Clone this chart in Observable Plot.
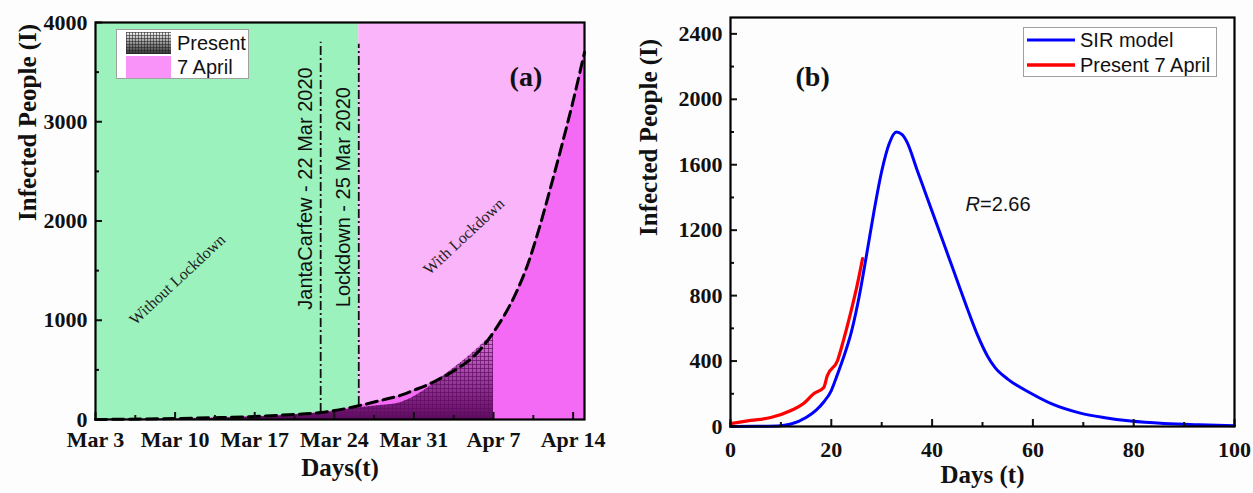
<!DOCTYPE html>
<html>
<head>
<meta charset="utf-8">
<script src="https://cdn.jsdelivr.net/npm/d3@7"></script>
<script src="https://cdn.jsdelivr.net/npm/@observablehq/plot@0.6"></script>
<style>
  html, body { margin: 0; padding: 0; background: #ffffff; }
  #wrap { position: relative; width: 1253px; height: 493px; overflow: hidden; background: #fdfdfd; }
  .panel { position: absolute; top: 0; }
  .legend { position: absolute; background: #fff; border: 1px solid #a0a0a0; box-sizing: border-box;
            font-family: "Liberation Sans", Arial, sans-serif; font-size: 20px; color: #111; }
  .legend svg { position: absolute; }
  .legend span { position: absolute; white-space: nowrap; }
</style>
</head>
<body>
<div id="wrap"></div>
<script>
// ---------------- Panel (a) data ----------------
// x = days since 3 March 2020
const xTicksA = [0, 7, 14, 21, 28, 35, 42];
const xTickLabelsA = ["Mar 3", "Mar 10", "Mar 17", "Mar 24", "Mar 31", "Apr 7", "Apr 14"];
const xMinorA = [3.5, 10.5, 17.5, 24.5, 31.5, 38.5];
const yTicksA = [0, 1000, 2000, 3000, 4000];
const yMinorA = [500, 1500, 2500, 3500];

// dashed "7 April" projection curve
const modelDaysA = [0, 4, 7, 11, 14, 17, 19.8, 22, 23.2, 25, 27, 28, 29, 30, 31, 32, 33, 34, 35, 36, 37, 38, 39, 40, 41, 42, 43];
const modelValsA = [0, 5, 10, 20, 30, 48, 70, 110, 140, 190, 250, 295, 340, 395, 455, 525, 610, 725, 880, 1060, 1280, 1560, 1920, 2330, 2760, 3210, 3700];

// "Present" observed area (up to 7 April)
const presentDaysA = [0, 7, 10, 14, 18, 21, 23, 25, 26.8, 28.9, 30.4, 32.7, 35];
const presentValsA = [0, 3, 10, 25, 50, 80, 115, 140, 170, 292, 423, 625, 870];

// background regions
const regionStartA = [0, 23.15];
const regionEndA = [23.15, 43];
const regionColorA = ["#9cf2bd", "#fab4fa"];

// event lines (JantaCarfew, Lockdown)
const eventDaysA = [19.8, 23.15];
const eventLowA = [70, 140];
const eventTopA = [3800, 3780];
const eventLabelsA = ["JantaCarfew - 22 Mar 2020", "Lockdown - 25 Mar 2020"];
const eventLabelDayA = [18.5, 21.8];
const eventLabelValA = [2327, 2240];

// phase annotations
const phaseLabelsA = ["Without Lockdown", "With Lockdown"];
const phaseDayA = [7.2, 32.4];
const phaseValA = [1410, 1844];

// ---------------- Panel (b) data ----------------
const xTicksB = [0, 20, 40, 60, 80, 100];
const xMinorB = [10, 30, 50, 70, 90];
const yTicksB = [0, 400, 800, 1200, 1600, 2000, 2400];
const yMinorB = [200, 600, 1000, 1400, 1800, 2200];

const sirDays = [0, 5, 10, 12, 15, 17, 18.5, 20, 21, 22.4, 24, 25.5, 27, 28.5, 30, 31.5, 32.9, 34, 35, 37, 39, 41, 43, 45, 47, 49, 51, 52.5, 55, 59.5, 64, 69.4, 74, 79.4, 86, 93, 100];
const sirVals = [0, 1, 5, 15, 55, 100, 150, 220, 300, 420, 580, 790, 1050, 1320, 1560, 1730, 1800, 1785, 1740, 1570, 1400, 1230, 1060, 890, 720, 560, 430, 360, 290, 205, 135, 82, 55, 33, 18, 10, 5];

const presentDaysB = [0, 4, 8, 12, 14.5, 16.5, 18.5, 19.2, 21.2, 22.4, 23.8, 25.2, 26.2];
const presentValsB = [18, 37, 55, 98, 140, 200, 238, 310, 400, 525, 690, 873, 1026];

// ---------------- build tables ----------------
const zip = (xs, ys) => xs.map((x, i) => ({x, y: ys[i]}));
const modelA = zip(modelDaysA, modelValsA);
const presentA = zip(presentDaysA, presentValsA);
const regionsA = regionStartA.map((s, i) => ({x1: s, x2: regionEndA[i], fill: regionColorA[i]}));
const eventsA = eventDaysA.map((d, i) => ({x: d, y1: eventLowA[i], y2: eventTopA[i]}));
const eventTextA = eventLabelsA.map((t, i) => ({t, x: eventLabelDayA[i], y: eventLabelValA[i]}));
const phaseTextA = phaseLabelsA.map((t, i) => ({t, x: phaseDayA[i], y: phaseValA[i]}));
const sirB = zip(sirDays, sirVals);
const presB = zip(presentDaysB, presentValsB);
const labelMapA = new Map(xTicksA.map((d, i) => [d, xTickLabelsA[i]]));
const plain = d => String(d);

const serif = "'Liberation Serif', 'Times New Roman', serif";
const sans = "'Liberation Sans', Arial, sans-serif";
const baseStyle = {fontFamily: serif, fontSize: "22px", fontWeight: "bold", background: "transparent", overflow: "visible", color: "#111"};

const chartA = Plot.plot({
  width: 620, height: 493,
  marginLeft: 95, marginRight: 36, marginTop: 22, marginBottom: 74,
  style: baseStyle,
  x: {domain: [0, 43]},
  y: {domain: [0, 4000]},
  marks: [
    Plot.rect(regionsA, {x1: "x1", x2: "x2", y1: 0, y2: 4000, fill: d => d.fill}),
    Plot.areaY(modelA, {x: "x", y: "y", fill: "#f46af4", curve: "monotone-x"}),
    Plot.areaY(presentA, {x: "x", y: "y", fill: "url(#presGrad)", curve: "monotone-x"}),
    Plot.areaY(presentA, {x: "x", y: "y", fill: "url(#presHatch)", curve: "monotone-x"}),
    Plot.ruleX(eventsA, {x: "x", y1: "y1", y2: "y2", stroke: "#111", strokeWidth: 1.8, strokeDasharray: "9,3,2,3"}),
    Plot.line(modelA, {x: "x", y: "y", stroke: "#000", strokeWidth: 3, strokeDasharray: "11,6", curve: "monotone-x"}),
    Plot.text(eventTextA, {x: "x", y: "y", text: "t", rotate: -90, fontFamily: sans, fontWeight: "normal", fontSize: 20, fill: "#111"}),
    Plot.text(phaseTextA, {x: "x", y: "y", text: "t", rotate: -43, fontFamily: serif, fontWeight: "normal", fontSize: 16, fill: "#222"}),
    Plot.text(["(a)"], {x: 37.85, y: 3446, fontSize: 28, fontWeight: "bold", fill: "#111"}),
    Plot.axisX({ticks: xTicksA, tickFormat: d => labelMapA.get(d), tickSize: -7, tickPadding: 19, strokeWidth: 2, label: null}),
    Plot.axisX({ticks: xMinorA, tickFormat: () => "", tickSize: -4, strokeWidth: 2, label: null}),
    Plot.axisY({ticks: yTicksA, tickFormat: plain, tickSize: -7, tickPadding: 15, strokeWidth: 2, label: null}),
    Plot.axisY({ticks: yMinorA, tickFormat: () => "", tickSize: -4, strokeWidth: 2, label: null}),
    Plot.frame({stroke: "#000", strokeWidth: 2.2}),
    Plot.text(["Infected People (I)"], {frameAnchor: "left", dx: -68, rotate: -90, fontSize: 25, fontWeight: "bold"}),
    Plot.text(["Days(t)"], {frameAnchor: "bottom", dy: 56, fontSize: 25, fontWeight: "bold"})
  ]
});

d3.select(chartA).insert("defs", ":first-child").html(`
  <linearGradient id="presGrad" x1="0" y1="1" x2="0" y2="0">
    <stop offset="0" stop-color="#5a0a5c"/>
    <stop offset="0.12" stop-color="#731574"/>
    <stop offset="0.45" stop-color="#9a3a9c"/>
    <stop offset="1" stop-color="#e27ae2"/>
  </linearGradient>
  <pattern id="presHatch" patternUnits="userSpaceOnUse" width="4" height="4">
    <path d="M0 0.5H4M0.5 0V4" stroke="#5e0e60" stroke-width="0.9" stroke-opacity="0.75" fill="none"/>
  </pattern>`);

const chartB = Plot.plot({
  width: 623, height: 493,
  marginLeft: 100, marginRight: 19, marginTop: 17, marginBottom: 67,
  style: baseStyle,
  x: {domain: [0, 100]},
  y: {domain: [0, 2500]},
  marks: [
    Plot.line(sirB, {x: "x", y: "y", stroke: "#0000ff", strokeWidth: 3, curve: "monotone-x"}),
    Plot.line(presB, {x: "x", y: "y", stroke: "#ff0000", strokeWidth: 3.2, curve: "monotone-x"}),
    Plot.text(["(b)"], {x: 16.3, y: 2137, fontSize: 28, fontWeight: "bold", fill: "#111"}),
    Plot.text(["R"], {x: 49.5, y: 1355, textAnchor: "end", fontFamily: sans, fontStyle: "italic", fontWeight: "normal", fontSize: 20, fill: "#111"}),
    Plot.text(["=2.66"], {x: 49.5, y: 1355, textAnchor: "start", fontFamily: sans, fontWeight: "normal", fontSize: 20, fill: "#111"}),
    Plot.axisX({ticks: xTicksB, tickFormat: plain, tickSize: -7, tickPadding: 22, strokeWidth: 2, label: null}),
    Plot.axisX({ticks: xMinorB, tickFormat: () => "", tickSize: -4, strokeWidth: 2, label: null}),
    Plot.axisY({ticks: yTicksB, tickFormat: plain, tickSize: -7, tickPadding: 15, strokeWidth: 2, label: null}),
    Plot.axisY({ticks: yMinorB, tickFormat: () => "", tickSize: -4, strokeWidth: 2, label: null}),
    Plot.frame({stroke: "#000", strokeWidth: 2.2}),
    Plot.text(["Infected People (I)"], {frameAnchor: "left", dx: -82, dy: 14, rotate: -90, fontSize: 25, fontWeight: "bold"}),
    Plot.text(["Days (t)"], {frameAnchor: "bottom", dy: 56, fontSize: 25, fontWeight: "bold"})
  ]
});

const wrap = document.getElementById("wrap");
const pa = document.createElement("div"); pa.className = "panel"; pa.style.left = "0px"; pa.appendChild(chartA);
const pb = document.createElement("div"); pb.className = "panel"; pb.style.left = "630px"; pb.appendChild(chartB);
wrap.appendChild(pa); wrap.appendChild(pb);

// ---------------- legends ----------------
const legA = document.createElement("div");
legA.className = "legend";
Object.assign(legA.style, {left: "116px", top: "29px", width: "133px", height: "50px"});
legA.innerHTML = `
  <svg width="45" height="22" style="left:9px;top:2px">
    <defs>
      <linearGradient id="legGrad" x1="0" y1="1" x2="0" y2="0">
        <stop offset="0" stop-color="#333"/><stop offset="1" stop-color="#f4f4f4"/>
      </linearGradient>
      <pattern id="legHatch" patternUnits="userSpaceOnUse" width="3" height="3">
        <path d="M0 0.5H3M0.5 0V3" stroke="#222" stroke-width="0.7" stroke-opacity="0.8" fill="none"/>
      </pattern>
    </defs>
    <rect width="45" height="22" fill="url(#legGrad)"/>
    <rect width="45" height="22" fill="url(#legHatch)"/>
  </svg>
  <span style="left:60px;top:0px;line-height:26px">Present</span>
  <svg width="45" height="22" style="left:9px;top:26px"><rect width="45" height="22" fill="#f992f9"/></svg>
  <span style="left:60px;top:24px;line-height:26px">7 April</span>`;
wrap.appendChild(legA);

const legB = document.createElement("div");
legB.className = "legend";
Object.assign(legB.style, {left: "1023px", top: "27px", width: "194px", height: "50px"});
legB.innerHTML = `
  <svg width="50" height="50" style="left:3px;top:0px">
    <line x1="0" x2="48" y1="12" y2="12" stroke="#0000ff" stroke-width="3"/>
    <line x1="0" x2="48" y1="37" y2="37" stroke="#ff0000" stroke-width="3.5"/>
  </svg>
  <span style="left:56px;top:0px;line-height:24px">SIR model</span>
  <span style="left:56px;top:25px;line-height:24px">Present 7 April</span>`;
wrap.appendChild(legB);
</script>
</body>
</html>
